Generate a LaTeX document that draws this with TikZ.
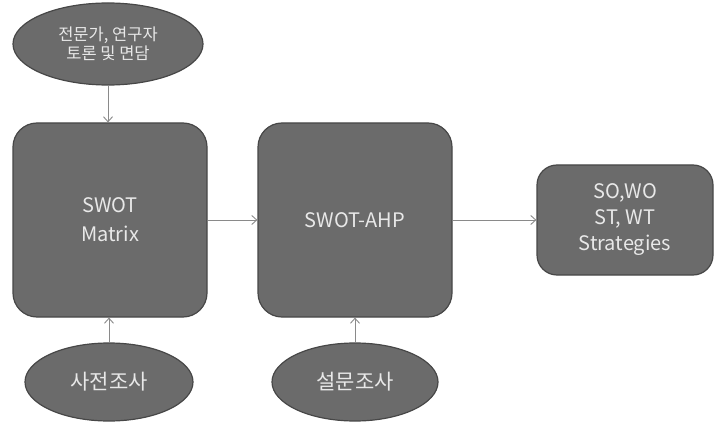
\documentclass[tikz,border=0pt]{standalone}
\usepackage{fontspec}
\setmainfont{Noto Sans CJK KR}
\usetikzlibrary{arrows.meta,shapes.geometric}
\definecolor{boxfill}{HTML}{6B6B6B}
\definecolor{boxline}{HTML}{474747}
\definecolor{boxtext}{HTML}{E8E8E8}
\definecolor{linkgray}{HTML}{8A8A8A}
\begin{document}
\begin{tikzpicture}[x=1pt,y=-1pt,
  stage/.style={draw=boxline,line width=1.2pt,fill=boxfill,text=boxtext,
    rounded corners=24pt,inner sep=0pt,align=center,font=\fontsize{20}{29}\selectfont},
  source/.style={ellipse,draw=boxline,line width=1.2pt,fill=boxfill,text=boxtext,
    inner sep=0pt,align=center},
  link/.style={draw=linkgray,line width=0.9pt,-{Straight Barb[length=5pt,width=9pt]}}]
\useasboundingbox (0,0) rectangle (715,422);

\node[source,minimum width=190pt,minimum height=82pt,
  font=\fontsize{16.5}{19}\selectfont] (experts) at (108,44) {전문가, 연구자\\토론 및 면담};
\node[source,minimum width=168pt,minimum height=78pt,
  font=\fontsize{21}{24}\selectfont] (pre) at (109,382) {사전조사};
\node[source,minimum width=166pt,minimum height=78pt,
  font=\fontsize{21}{24}\selectfont] (survey) at (355,382) {설문조사};

\node[stage,minimum width=194pt,minimum height=194pt] (matrix) at (110,220) {SWOT\\Matrix};
\node[stage,minimum width=194pt,minimum height=194pt] (ahp) at (355,220) {SWOT-AHP};
\node[stage,rounded corners=20pt,minimum width=176pt,minimum height=110pt,
  font=\fontsize{20}{26}\selectfont] (strat) at (625,220) {SO,WO\\ST, WT\\Strategies};

\draw[link] (experts.south) -- (matrix.north -| experts.south);
\draw[link] (pre.north) -- (matrix.south -| pre.north);
\draw[link] (survey.north) -- (ahp.south -| survey.north);
\draw[link] (matrix.east) -- (ahp.west);
\draw[link] (ahp.east) -- (strat.west);
\end{tikzpicture}
\end{document}
